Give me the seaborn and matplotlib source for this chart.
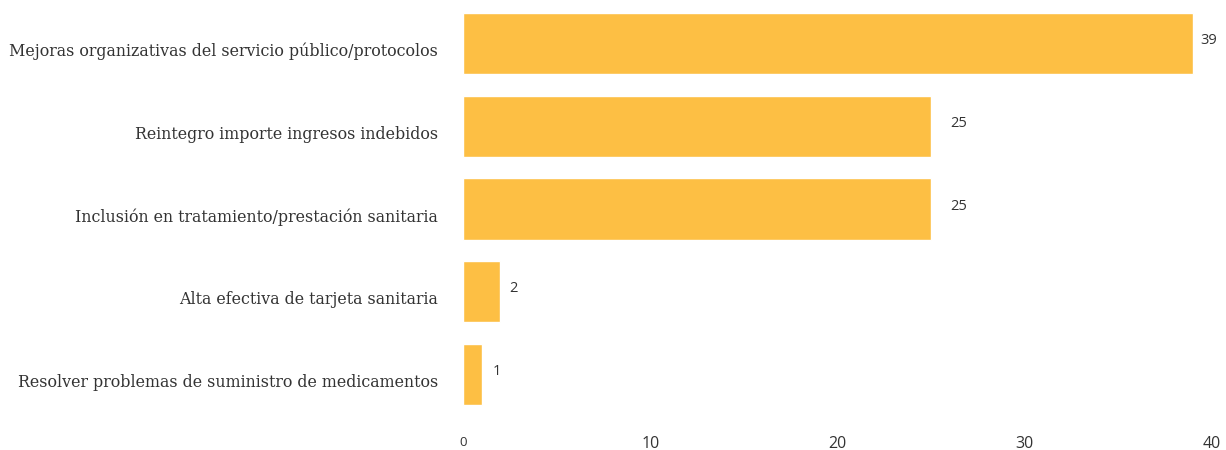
import matplotlib
matplotlib.use("Agg")
import matplotlib.pyplot as plt
import matplotlib.transforms as mtransforms
import seaborn as sns
import pandas as pd

categorias = [
    "Mejoras organizativas del servicio público/protocolos",
    "Reintegro importe ingresos indebidos",
    "Inclusión en tratamiento/prestación sanitaria",
    "Alta efectiva de tarjeta sanitaria",
    "Resolver problemas de suministro de medicamentos",
]
valores = [39, 25, 25, 2, 1]
ticks_x = [0, 10, 20, 30, 40]

df = pd.DataFrame({"categoria": categorias, "valor": valores})

sns.set_theme(style="white")
plt.rcParams["font.family"] = ["Open Sans", "DejaVu Sans"]

fig = plt.figure(figsize=(12.26, 4.5), dpi=100)
ax = fig.add_axes([463 / 1226, 1 - 418 / 450, (1212 - 463) / 1226, 416 / 450])

sns.barplot(data=df, x="valor", y="categoria", orient="h", color="#FDBF44",
            saturation=1, width=0.74, ax=ax)

ax.set_xlim(0, 40)
ax.set_ylim(4.525, -0.50)
ax.set_xticks(ticks_x)
ax.set_xticklabels([str(t) for t in ticks_x])
for i, lab in enumerate(ax.get_xticklabels()):
    lab.set_fontsize(9.5 if i == 0 else 11.5)
    lab.set_color("#333333")
ax.tick_params(axis="x", length=0, pad=13)
ax.tick_params(axis="y", length=0, pad=18)

# category labels sit slightly below the bar centre
bajar = mtransforms.ScaledTranslation(0, -6 / 100, fig.dpi_scale_trans)
for lab in ax.get_yticklabels():
    lab.set_family(["DejaVu Serif"])
    lab.set_fontsize(11.4)
    lab.set_color("#333333")
    lab.set_transform(lab.get_transform() + bajar)
ax.set_xlabel("")
ax.set_ylabel("")
for s in ax.spines.values():
    s.set_visible(False)
ax.grid(False)

# value labels to the right of each bar
desplaz = [5, 14, 14, 6, 8]
for i, (v, d) in enumerate(zip(valores, desplaz)):
    ax.annotate(str(v), xy=(v, i), xytext=(d, 2), textcoords="offset points",
                ha="left", va="center", fontsize=10.5, color="#333333")

fig.savefig("out.png", dpi=100)
